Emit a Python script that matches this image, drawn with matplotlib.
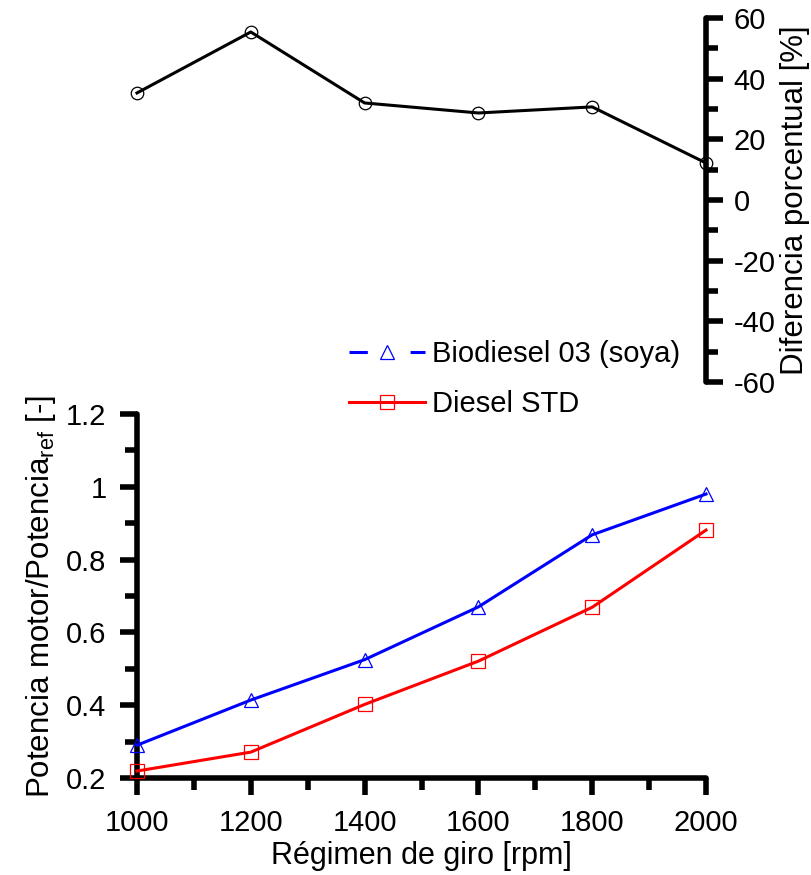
import numpy as np
import matplotlib
matplotlib.use('Agg')
import matplotlib.pyplot as plt
from matplotlib.lines import Line2D
from matplotlib.ticker import MultipleLocator, FormatStrFormatter

plt.rcParams['font.family'] = ['Liberation Sans', 'DejaVu Sans']
plt.rcParams['axes.unicode_minus'] = False
plt.rcParams['font.size'] = 21
plt.rcParams['mathtext.fontset'] = 'custom'
plt.rcParams['mathtext.rm'] = 'Liberation Sans'

rpm = [1000, 1200, 1400, 1600, 1800, 2000]
biodiesel = [0.29, 0.414, 0.525, 0.67, 0.868, 0.98]
diesel = [0.219, 0.271, 0.402, 0.521, 0.669, 0.881]
diferencia = [35.3, 55.4, 32.0, 28.7, 30.7, 12.2]

fig = plt.figure(figsize=(8.12, 8.75), dpi=100)
ax = fig.add_axes([0.1687, 0.1109, 0.7008, 0.416])
ax2 = fig.add_axes([0.1687, 0.5634, 0.7008, 0.416])

spine_w = 4
label_fs = 22

# lower plot
ax.plot(rpm, biodiesel, color='blue', lw=2.2, marker='^', ms=10, mfc='none',
        mec='blue', mew=0.9, clip_on=False, zorder=3)
ax.plot(rpm, diesel, color='red', lw=2.2, marker='s', ms=10, mfc='none',
        mec='red', mew=0.9, clip_on=False, zorder=3)
ax.set_xlim(1000, 2000)
ax.set_ylim(0.2, 1.2)
for s in ['top', 'right']:
    ax.spines[s].set_visible(False)
for s in ['left', 'bottom']:
    ax.spines[s].set_linewidth(spine_w)
    ax.spines[s].set_capstyle('round')
ax.xaxis.set_major_locator(MultipleLocator(200))
ax.xaxis.set_minor_locator(MultipleLocator(100))
ax.yaxis.set_major_locator(MultipleLocator(0.2))
ax.yaxis.set_minor_locator(MultipleLocator(0.1))
ax.yaxis.set_major_formatter(FormatStrFormatter('%g'))
ax.tick_params(which='major', direction='out', length=12, width=spine_w, pad=10)
ax.tick_params(which='minor', direction='out', length=8.5, width=spine_w)
ax.set_xlabel('Régimen de giro [rpm]', fontsize=label_fs, labelpad=3)
ax.set_ylabel('Potencia motor/Potencia$_{\\mathrm{ref}}$ [-]', fontsize=label_fs + 0.5,
              labelpad=6)

# upper plot
ax2.plot(rpm, diferencia, color='black', lw=2.2, marker='o', ms=9, mfc='none',
         mec='black', mew=0.9, clip_on=False)
ax2.set_xlim(1000, 2000)
ax2.set_ylim(-60, 60)
for s in ['top', 'left', 'bottom']:
    ax2.spines[s].set_visible(False)
ax2.spines['right'].set_linewidth(spine_w)
ax2.spines['right'].set_capstyle('round')
ax2.set_xticks([])
ax2.yaxis.tick_right()
ax2.yaxis.set_label_position('right')
ax2.yaxis.set_major_locator(MultipleLocator(20))
ax2.yaxis.set_minor_locator(MultipleLocator(10))
ax2.tick_params(which='major', direction='out', length=12, width=spine_w, pad=8)
ax2.tick_params(which='minor', direction='out', length=8.5, width=spine_w)
ax2.set_ylabel('Diferencia porcentual [%]', fontsize=label_fs + 0.5, labelpad=3)
ax2.patch.set_alpha(0)

handles = [
    Line2D([], [], color='blue', lw=2.2, ls=(0, (6, 14)), marker='^', ms=10,
           mfc='none', mec='blue', mew=0.9),
    Line2D([], [], color='red', lw=2.2, marker='s', ms=10, mfc='none',
           mec='red', mew=0.9),
]
fig.legend(handles, ['Biodiesel 03 (soya)', 'Diesel STD'],
           loc='center', bbox_to_anchor=(0.634, 0.567), frameon=False,
           handlelength=2.6, handletextpad=0.25, labelspacing=0.75,
           borderaxespad=0)

fig.savefig('out.png', dpi=100)
